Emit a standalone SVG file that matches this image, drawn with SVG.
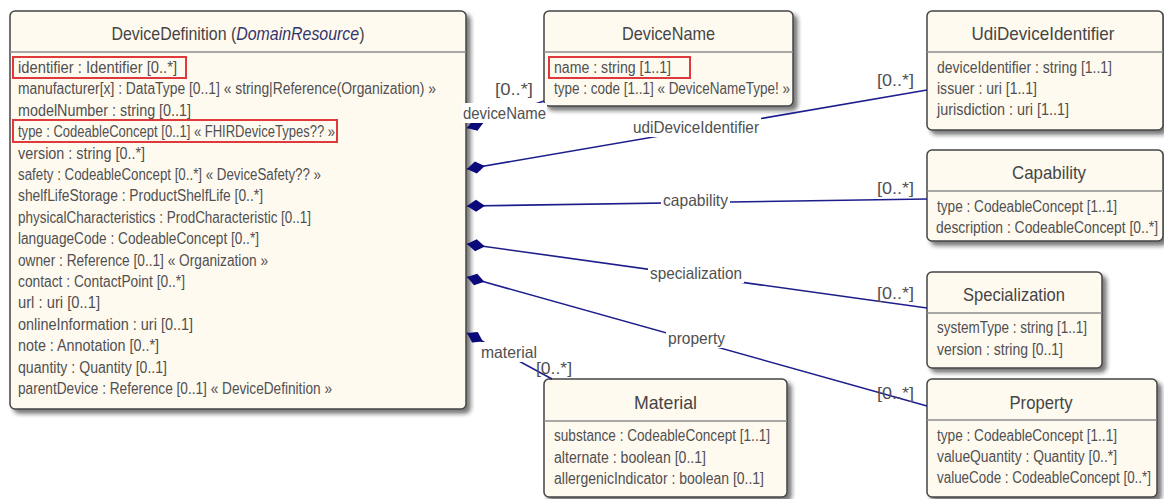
<svg xmlns="http://www.w3.org/2000/svg" width="1164" height="499" viewBox="0 0 1164 499">
<defs>
<style>
.box{fill:#fffaf0;stroke:#444;stroke-width:1.5}
.sep{stroke:#8c8c8c;stroke-width:1.5}
text{font-family:"Liberation Sans Narrow","Liberation Sans",Arial,sans-serif;fill:#505050}
.row{font-size:16px}
.title{font-size:19px;text-anchor:middle;fill:#454545}
.lbl{font-size:16.5px}
.card{font-size:16px}
.lbg{fill:#ffffff}
.conn{stroke:#1d1d8c;stroke-width:1.6;fill:none;marker-start:url(#dia)}
.hl{fill:none;stroke:#e0393b;stroke-width:2}
</style>
<filter id="sh" x="-5%" y="-5%" width="115%" height="115%">
<feDropShadow dx="4" dy="4" stdDeviation="2" flood-color="#222" flood-opacity="0.6"/>
</filter>
<marker id="dia" markerUnits="userSpaceOnUse" markerWidth="20" markerHeight="14" viewBox="0 -7 20 14" refX="0" refY="0" orient="auto">
<path d="M0,0 L9,-6 L18,0 L9,6 Z" fill="#0a0a7a"/>
</marker>
</defs>
<rect width="1164" height="499" fill="#ffffff"/>

<g id="DeviceDefinition">
<rect class="box" x="10" y="11" width="456" height="398" rx="5" filter="url(#sh)"/>
<line class="sep" x1="10" y1="52" x2="466" y2="52"/>
<text class="title" x="238" y="40" textLength="253" lengthAdjust="spacingAndGlyphs">DeviceDefinition (<tspan font-style="italic" fill="#35356b">DomainResource</tspan>)</text>
<text class="row" x="18" y="73" textLength="159" lengthAdjust="spacingAndGlyphs">identifier : Identifier [0..*]</text>
<text class="row" x="18" y="94.4" textLength="418" lengthAdjust="spacingAndGlyphs">manufacturer[x] : DataType [0..1] « string|Reference(Organization) »</text>
<text class="row" x="18" y="115.8" textLength="173" lengthAdjust="spacingAndGlyphs">modelNumber : string [0..1]</text>
<text class="row" x="18" y="137.2" textLength="317" lengthAdjust="spacingAndGlyphs">type : CodeableConcept [0..1] « FHIRDeviceTypes?? »</text>
<text class="row" x="18" y="158.6" textLength="127" lengthAdjust="spacingAndGlyphs">version : string [0..*]</text>
<text class="row" x="18" y="180" textLength="303" lengthAdjust="spacingAndGlyphs">safety : CodeableConcept [0..*] « DeviceSafety?? »</text>
<text class="row" x="18" y="201.4" textLength="245" lengthAdjust="spacingAndGlyphs">shelfLifeStorage : ProductShelfLife [0..*]</text>
<text class="row" x="18" y="222.8" textLength="293" lengthAdjust="spacingAndGlyphs">physicalCharacteristics : ProdCharacteristic [0..1]</text>
<text class="row" x="18" y="244.2" textLength="241" lengthAdjust="spacingAndGlyphs">languageCode : CodeableConcept [0..*]</text>
<text class="row" x="18" y="265.6" textLength="250" lengthAdjust="spacingAndGlyphs">owner : Reference [0..1] « Organization »</text>
<text class="row" x="18" y="287" textLength="167" lengthAdjust="spacingAndGlyphs">contact : ContactPoint [0..*]</text>
<text class="row" x="18" y="308.4" textLength="82" lengthAdjust="spacingAndGlyphs">url : uri [0..1]</text>
<text class="row" x="18" y="329.8" textLength="175" lengthAdjust="spacingAndGlyphs">onlineInformation : uri [0..1]</text>
<text class="row" x="18" y="351.2" textLength="141" lengthAdjust="spacingAndGlyphs">note : Annotation [0..*]</text>
<text class="row" x="18" y="372.6" textLength="149" lengthAdjust="spacingAndGlyphs">quantity : Quantity [0..1]</text>
<text class="row" x="18" y="394" textLength="314" lengthAdjust="spacingAndGlyphs">parentDevice : Reference [0..1] « DeviceDefinition »</text>
<rect class="hl" x="13" y="57" width="173" height="21"/>
<rect class="hl" x="13" y="120" width="324" height="22"/>
</g>

<g id="DeviceName">
<rect class="box" x="544" y="11" width="249" height="95" rx="5" filter="url(#sh)"/>
<line class="sep" x1="544" y1="52" x2="793" y2="52"/>
<text class="title" x="668.5" y="40" textLength="93" lengthAdjust="spacingAndGlyphs">DeviceName</text>
<text class="row" x="554" y="73" textLength="117" lengthAdjust="spacingAndGlyphs">name : string [1..1]</text>
<text class="row" x="554" y="94" textLength="236" lengthAdjust="spacingAndGlyphs">type : code [1..1] « DeviceNameType! »</text>
<rect class="hl" x="549" y="57" width="141" height="21"/>
</g>

<g id="UdiDeviceIdentifier">
<rect class="box" x="927" y="11" width="236" height="119" rx="5" filter="url(#sh)"/>
<line class="sep" x1="927" y1="52" x2="1163" y2="52"/>
<text class="title" x="1043" y="40" textLength="143" lengthAdjust="spacingAndGlyphs">UdiDeviceIdentifier</text>
<text class="row" x="937" y="73" textLength="175" lengthAdjust="spacingAndGlyphs">deviceIdentifier : string [1..1]</text>
<text class="row" x="937" y="94" textLength="100" lengthAdjust="spacingAndGlyphs">issuer : uri [1..1]</text>
<text class="row" x="937" y="115" textLength="132" lengthAdjust="spacingAndGlyphs">jurisdiction : uri [1..1]</text>
</g>

<g id="Capability">
<rect class="box" x="927" y="150" width="236" height="91" rx="5" filter="url(#sh)"/>
<line class="sep" x1="927" y1="191" x2="1163" y2="191"/>
<text class="title" x="1049" y="179" textLength="74" lengthAdjust="spacingAndGlyphs">Capability</text>
<text class="row" x="937" y="211.5" textLength="180" lengthAdjust="spacingAndGlyphs">type : CodeableConcept [1..1]</text>
<text class="row" x="936" y="233" textLength="222" lengthAdjust="spacingAndGlyphs">description : CodeableConcept [0..*]</text>
</g>

<g id="Specialization">
<rect class="box" x="927" y="272" width="175" height="96" rx="5" filter="url(#sh)"/>
<line class="sep" x1="927" y1="313" x2="1102" y2="313"/>
<text class="title" x="1014" y="301" textLength="102" lengthAdjust="spacingAndGlyphs">Specialization</text>
<text class="row" x="937" y="333" textLength="150" lengthAdjust="spacingAndGlyphs">systemType : string [1..1]</text>
<text class="row" x="937" y="355" textLength="126" lengthAdjust="spacingAndGlyphs">version : string [0..1]</text>
</g>

<g id="Property">
<rect class="box" x="927" y="379" width="230" height="118" rx="5" filter="url(#sh)"/>
<line class="sep" x1="927" y1="420" x2="1157" y2="420"/>
<text class="title" x="1041" y="409" textLength="63" lengthAdjust="spacingAndGlyphs">Property</text>
<text class="row" x="937" y="441" textLength="180" lengthAdjust="spacingAndGlyphs">type : CodeableConcept [1..1]</text>
<text class="row" x="937" y="462" textLength="180" lengthAdjust="spacingAndGlyphs">valueQuantity : Quantity [0..*]</text>
<text class="row" x="937" y="483" textLength="214" lengthAdjust="spacingAndGlyphs">valueCode : CodeableConcept [0..*]</text>
</g>

<g id="Material">
<rect class="box" x="544" y="379" width="243" height="118" rx="5" filter="url(#sh)"/>
<line class="sep" x1="544" y1="421" x2="787" y2="421"/>
<text class="title" x="665.5" y="409" textLength="63" lengthAdjust="spacingAndGlyphs">Material</text>
<text class="row" x="554" y="441" textLength="216" lengthAdjust="spacingAndGlyphs">substance : CodeableConcept [1..1]</text>
<text class="row" x="554" y="463" textLength="152" lengthAdjust="spacingAndGlyphs">alternate : boolean [0..1]</text>
<text class="row" x="554" y="484" textLength="210" lengthAdjust="spacingAndGlyphs">allergenicIndicator : boolean [0..1]</text>
</g>

<g id="connectors">
<path class="conn" d="M467,128 L544,101"/>
<path class="conn" d="M467,169 L927,90"/>
<path class="conn" d="M467,206 L927,199"/>
<path class="conn" d="M467,244 L927,308"/>
<path class="conn" d="M467,277 L927,406"/>
<path class="conn" d="M467,333 L552,379"/>

<rect class="lbg" x="462" y="103" width="85" height="20"/>
<text class="lbl" x="463" y="118.5" textLength="83" lengthAdjust="spacingAndGlyphs">deviceName</text>
<rect class="lbg" x="631" y="117" width="130" height="20"/>
<text class="lbl" x="633" y="132.5" textLength="126" lengthAdjust="spacingAndGlyphs">udiDeviceIdentifier</text>
<rect class="lbg" x="661" y="190" width="69" height="20"/>
<text class="lbl" x="663" y="205.5" textLength="65" lengthAdjust="spacingAndGlyphs">capability</text>
<rect class="lbg" x="648" y="263" width="96" height="20"/>
<text class="lbl" x="650" y="278.5" textLength="92" lengthAdjust="spacingAndGlyphs">specialization</text>
<rect class="lbg" x="666" y="328" width="61" height="20"/>
<text class="lbl" x="668" y="343.5" textLength="57" lengthAdjust="spacingAndGlyphs">property</text>
<rect class="lbg" x="479" y="342" width="60" height="20"/>
<text class="lbl" x="481" y="357.5" textLength="56" lengthAdjust="spacingAndGlyphs">material</text>

<text class="card" x="495" y="94.5" textLength="38" lengthAdjust="spacingAndGlyphs">[0..*]</text>
<text class="card" x="877" y="85.5" textLength="37" lengthAdjust="spacingAndGlyphs">[0..*]</text>
<text class="card" x="877" y="193.5" textLength="37" lengthAdjust="spacingAndGlyphs">[0..*]</text>
<text class="card" x="877" y="298.5" textLength="37" lengthAdjust="spacingAndGlyphs">[0..*]</text>
<text class="card" x="877" y="398.5" textLength="37" lengthAdjust="spacingAndGlyphs">[0..*]</text>
<text class="card" x="536" y="373.5" textLength="36" lengthAdjust="spacingAndGlyphs">[0..*]</text>
</g>
</svg>
